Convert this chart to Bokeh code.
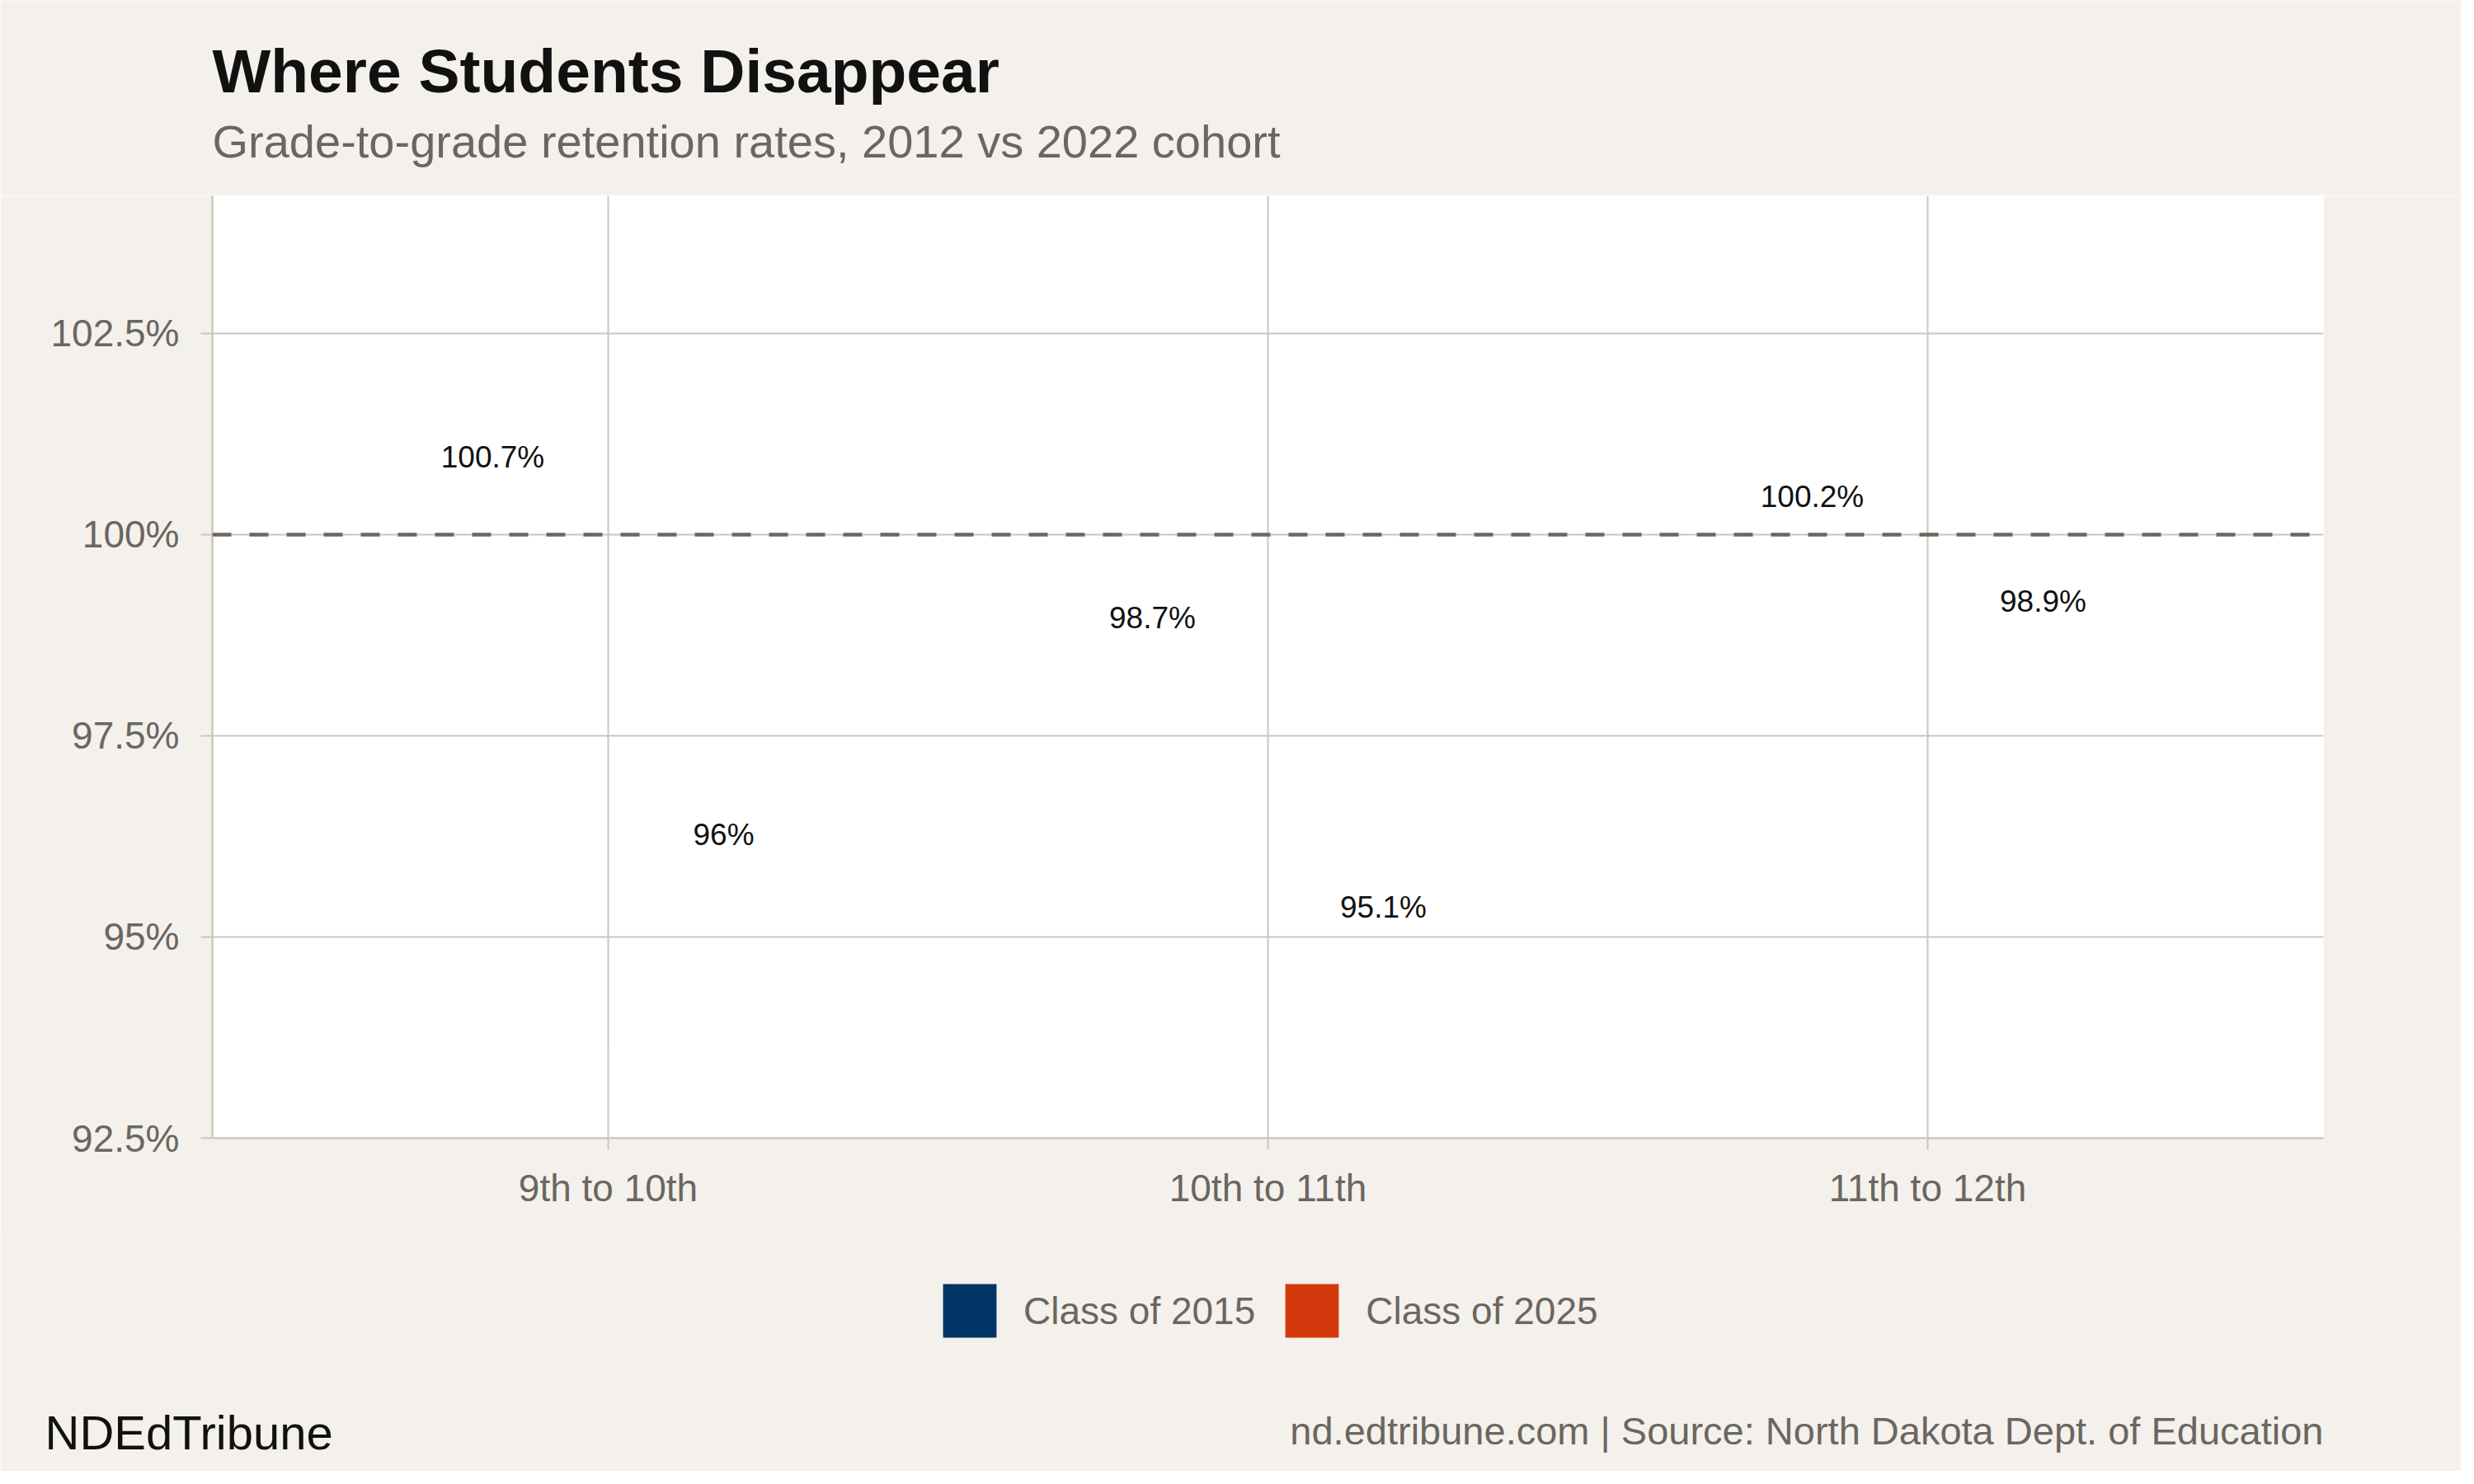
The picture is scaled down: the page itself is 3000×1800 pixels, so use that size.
from bokeh.plotting import figure
from bokeh.layouts import column
from bokeh.models import (ColumnDataSource, FactorRange, Range1d, FixedTicker,
                          Span, Label, Legend, LegendItem)
from bokeh.transform import dodge
from bokeh.core.properties import value
from bokeh.embed import file_html
from bokeh.resources import INLINE

# ---- data ----
transitions = ["9th to 10th", "10th to 11th", "11th to 12th"]
cohorts = ["Class of 2015", "Class of 2025"]
class_2015 = [100.7, 98.7, 100.2]
class_2025 = [96.0, 95.1, 98.9]
y_ticks = [92.5, 95, 97.5, 100, 102.5]
y_tick_labels = ["92.5%", "95%", "97.5%", "100%", "102.5%"]
reference_rate = 100
title_text = "Where Students Disappear"
subtitle_text = "Grade-to-grade retention rates, 2012 vs 2022 cohort"
brand_text = "NDEdTribune"
source_text = "nd.edtribune.com | Source: North Dakota Dept. of Education"

# ---- style ----
FONT = "Liberation Sans"
BG = "#F4F1EC"
GRID = "#CCC6BC"
GRAY = "#6B6661"
DARK = "#111111"
COLORS = ["#003366", "#D4380D"]

W = 2984
H_HEAD, H_MAIN, H_FOOT = 237, 1263, 284


def blank_fig(h):
    f = figure(width=W, height=h, x_range=Range1d(0, W), y_range=Range1d(h, 0),
               output_backend="svg", toolbar_location=None,
               x_axis_location=None, y_axis_location=None,
               min_border=0, min_border_left=0, min_border_right=0,
               min_border_top=0, min_border_bottom=0)
    f.frame_align = False
    f.grid.grid_line_color = None
    f.outline_line_color = None
    f.background_fill_color = BG
    f.border_fill_color = BG
    return f


# ---- header ----
head = blank_fig(H_HEAD)
head.add_layout(Label(x=257, y=85, text=title_text, text_font=FONT,
                      text_font_size="75px", text_font_style="bold",
                      text_color=DARK, text_baseline="alphabetic"))
head.add_layout(Label(x=257, y=171, text=subtitle_text, text_font=FONT,
                      text_font_size="56px", text_color=GRAY,
                      text_baseline="alphabetic"))

# ---- main chart ----
p = figure(width=W, height=H_MAIN, title=None,
           x_range=FactorRange(*transitions, range_padding=0.1, range_padding_units="absolute"),
           y_range=Range1d(92.5, 104.21),
           output_backend="svg", toolbar_location=None,
           min_border_left=257, min_border_right=167,
           min_border_top=0, min_border_bottom=120)
p.background_fill_color = "white"
p.border_fill_color = BG
p.outline_line_color = None

for ax in (p.xaxis[0], p.yaxis[0]):
    ax.axis_line_color = GRID
    ax.axis_line_width = 2.5
    ax.major_tick_line_color = GRID
    ax.major_tick_line_width = 2
    ax.major_tick_out = 14
    ax.major_tick_in = 0
    ax.minor_tick_line_color = None
    ax.major_label_text_font = FONT
    ax.major_label_text_font_size = "46px"
    ax.major_label_text_color = GRAY
p.xaxis.major_label_standoff = 20
p.yaxis.major_label_standoff = 26
p.yaxis.ticker = FixedTicker(ticks=y_ticks)
p.yaxis.major_label_overrides = {t: l for t, l in zip(y_ticks, y_tick_labels)}

p.xgrid.grid_line_color = GRID
p.xgrid.grid_line_width = 2
p.ygrid.grid_line_color = GRID
p.ygrid.grid_line_width = 2

p.add_layout(Span(location=reference_rate, dimension="width", line_color=GRAY,
                  line_width=4.5, line_dash="23 22"))

# bars lie below the visible y-limits in the original, so they are hidden;
# only their value labels show
for vals, off, col in ((class_2015, -0.175, COLORS[0]), (class_2025, 0.175, COLORS[1])):
    src = ColumnDataSource(dict(cat=transitions, val=vals,
                                label=[f"{v:g}%" for v in vals]))
    p.vbar(x=dodge("cat", off, range=p.x_range), top="val", bottom=0, width=0.35,
           source=src, fill_color=col, line_color=None, visible=False)
    p.text(x=dodge("cat", off, range=p.x_range), y="val", text="label", source=src,
           text_font=value(FONT), text_font_size="37px", text_color=DARK,
           text_align="center", text_baseline="alphabetic", y_offset=-26)

# ---- footer with legend ----
foot = blank_fig(H_FOOT)
proxies = [foot.vbar(x=[0], top=[0], width=0, fill_color=c, line_color=None)
           for c in COLORS]
legend = Legend(items=[LegendItem(label=lab, renderers=[r]) for lab, r in zip(cohorts, proxies)],
                location=(1135, 154), orientation="horizontal",
                glyph_width=81, glyph_height=81, label_standoff=25, spacing=28,
                padding=0, margin=0, border_line_color=None,
                background_fill_alpha=0,
                label_text_font=FONT, label_text_font_size="46px",
                label_text_color=GRAY)
foot.add_layout(legend)
foot.add_layout(Label(x=54, y=237, text=brand_text, text_font=FONT,
                      text_font_size="58px", text_color=DARK,
                      text_baseline="alphabetic"))
foot.add_layout(Label(x=2817, y=235, text=source_text, text_font=FONT,
                      text_font_size="47px", text_color=GRAY, text_align="right",
                      text_baseline="alphabetic"))

layout = column(head, p, foot, spacing=0)
open("out.html", "w").write(file_html(layout, INLINE))
